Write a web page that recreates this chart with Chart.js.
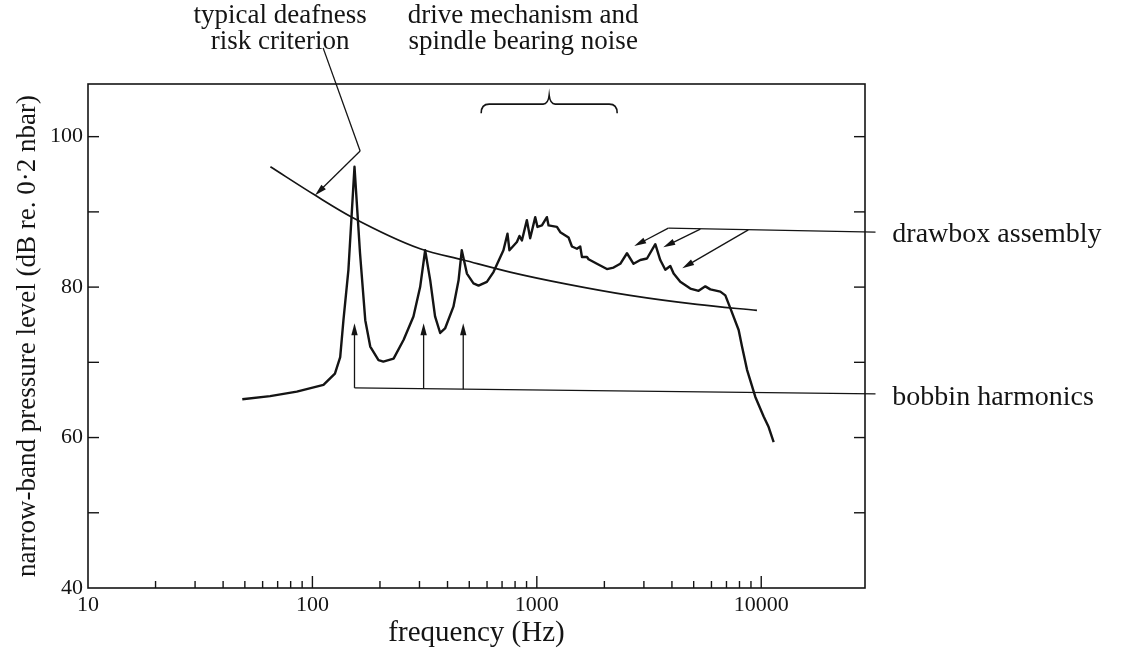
<!DOCTYPE html>
<html><head><meta charset="utf-8">
<script src="https://cdn.jsdelivr.net/npm/chart.js@4.4.1/dist/chart.umd.min.js"></script>
<style>html,body{margin:0;padding:0;background:#fff}#wrap{width:1124px;height:656px}</style>
</head><body><div id="wrap"><canvas id="c" width="1124" height="656"></canvas></div>
<script>
// ---- data ----
const spectrumFreq = [48.7,64.8,85.2,112,126,133,137.5,144.7,154,163,172,181,197,207,230,255,282,302,318,335,352,371,390,425,448,463,488,522,550,599,641,710,740,755,815,837,858,903,934,984,1007,1054,1109,1128,1229,1272,1385,1434,1509,1561,1589,1673,1700,1853,2053,2198,2354,2522,2698,2891,3097,3373,3549,3737,3934,4070,4358,4830,5260,5635,5932,6573,6918,7281,7932,8210,8645,9413,10250,10790,11360];
const spectrumLevel = [65.1,65.5,66.1,67.0,68.5,70.7,75.6,82.3,96.0,84.5,75.6,72.1,70.3,70.1,70.5,73.0,76.1,80.0,84.9,80.9,76.1,73.9,74.5,77.4,80.9,84.9,81.8,80.5,80.2,80.7,82.0,84.9,87.1,84.9,86.0,86.8,86.2,88.9,86.5,89.3,88.0,88.2,89.3,88.2,88.0,87.3,86.6,85.4,85.1,85.4,84.0,84.0,83.7,83.1,82.4,82.6,83.1,84.5,83.1,83.6,83.8,85.7,83.6,82.3,82.8,81.8,80.7,79.8,79.5,80.1,79.7,79.4,78.9,77.2,74.3,72.1,69.0,65.4,62.8,61.4,59.4];
const criterionFreq = [65,103,150,302,471,760,1360,2600,5170,9570];
const criterionLevel = [96.0,92.2,89.3,85.1,83.6,82.0,80.4,78.9,77.7,76.9];
const xTickValues = [20,30,40,50,60,70,80,90,100,200,300,400,500,600,700,800,900,1000,2000,3000,4000,5000,6000,7000,8000,9000,10000];
const xLabelValues = [10,100,1000,10000];
const yTickValues = [50,60,70,80,90,100];
const yLabelValues = [40,60,80,100];
const bobbinHarmonicFreq = [154,313,470];
const drawboxTargetFreq = [2717,3660,4446];
const drawboxTargetLevel = [85.45,85.3,82.5];

// ---- annotation geometry (in data units) ----
const ann = {
  deafPath: [[111.6,111.8],[163.2,98.1]], deafTip: [102.8,92.2],
  bobbinBase: [[154,66.6],[32300,65.8]], bobbinTipLevel: 75.2,
  drawboxLine: [[3855,87.84],[32300,87.3]], drawboxFrom: [[3855,87.84],[5353,87.7],[8759,87.6]],
  brace: {f1:565, f2:2281, fm:1135, yEnd:103.26, yMid:104.33, yPeak:105.5}
};
const INK = '#141414';
const SERIF = '"Liberation Serif", "Times New Roman", serif';

function arrow(ctx, x1, y1, x2, y2, len, w) {
  const a = Math.atan2(y2 - y1, x2 - x1);
  ctx.beginPath(); ctx.moveTo(x1, y1); ctx.lineTo(x2 - Math.cos(a)*len*0.6, y2 - Math.sin(a)*len*0.6); ctx.stroke();
  ctx.beginPath();
  ctx.moveTo(x2, y2);
  ctx.lineTo(x2 - len*Math.cos(a) + w*Math.sin(a), y2 - len*Math.sin(a) - w*Math.cos(a));
  ctx.lineTo(x2 - len*Math.cos(a) - w*Math.sin(a), y2 - len*Math.sin(a) + w*Math.cos(a));
  ctx.closePath(); ctx.fill();
}

const decor = {
  id: 'decor',
  afterDatasetsDraw(chart) {
    const ctx = chart.ctx, xs = chart.scales.x, ys = chart.scales.y, ca = chart.chartArea;
    const P = (f, d) => [xs.getPixelForValue(f), ys.getPixelForValue(d)];
    ctx.save();
    ctx.strokeStyle = INK; ctx.fillStyle = INK; ctx.lineCap = 'butt';
    // frame
    ctx.lineWidth = 1.6;
    ctx.strokeRect(ca.left, ca.top, ca.right - ca.left, ca.bottom - ca.top);
    // ticks
    ctx.lineWidth = 1.4;
    xTickValues.forEach(v => {
      const x = xs.getPixelForValue(v);
      const major = xLabelValues.includes(v);
      ctx.beginPath(); ctx.moveTo(x, ca.bottom); ctx.lineTo(x, ca.bottom - (major ? 12 : 7)); ctx.stroke();
    });
    yTickValues.forEach(v => {
      const y = ys.getPixelForValue(v);
      ctx.beginPath(); ctx.moveTo(ca.left, y); ctx.lineTo(ca.left + 11, y); ctx.stroke();
      ctx.beginPath(); ctx.moveTo(ca.right, y); ctx.lineTo(ca.right - 11, y); ctx.stroke();
    });
    // deafness callout
    ctx.lineWidth = 1.3;
    let a = P(...ann.deafPath[0]), b = P(...ann.deafPath[1]), t = P(...ann.deafTip);
    ctx.beginPath(); ctx.moveTo(a[0], a[1]); ctx.lineTo(b[0], b[1]); ctx.stroke();
    arrow(ctx, b[0], b[1], t[0], t[1], 12, 3.2);
    // bobbin harmonics
    a = P(...ann.bobbinBase[0]); b = P(...ann.bobbinBase[1]);
    ctx.beginPath(); ctx.moveTo(a[0], a[1]); ctx.lineTo(b[0], b[1]); ctx.stroke();
    bobbinHarmonicFreq.forEach(f => {
      const x = xs.getPixelForValue(f);
      const yb = a[1] + (b[1] - a[1]) * (x - a[0]) / (b[0] - a[0]);
      arrow(ctx, x, yb, x, ys.getPixelForValue(ann.bobbinTipLevel), 12, 3.2);
    });
    // drawbox assembly
    a = P(...ann.drawboxLine[0]); b = P(...ann.drawboxLine[1]);
    ctx.beginPath(); ctx.moveTo(a[0], a[1]); ctx.lineTo(b[0], b[1]); ctx.stroke();
    ann.drawboxFrom.forEach((s, i) => {
      const p = P(...s), q = P(drawboxTargetFreq[i], drawboxTargetLevel[i]);
      arrow(ctx, p[0], p[1], q[0], q[1], 12, 3.2);
    });
    // brace
    const br = ann.brace;
    const x1 = xs.getPixelForValue(br.f1), x2 = xs.getPixelForValue(br.f2), xm = xs.getPixelForValue(br.fm);
    const ye = ys.getPixelForValue(br.yEnd), ym = ys.getPixelForValue(br.yMid), yp = ys.getPixelForValue(br.yPeak);
    ctx.lineWidth = 1.6;
    ctx.beginPath();
    ctx.moveTo(x1, ye + 1);
    ctx.quadraticCurveTo(x1, ym, x1 + 8, ym);
    ctx.lineTo(xm - 6, ym);
    ctx.quadraticCurveTo(xm - 1, ym, xm, yp);
    ctx.quadraticCurveTo(xm + 1, ym, xm + 6, ym);
    ctx.lineTo(x2 - 8, ym);
    ctx.quadraticCurveTo(x2, ym, x2, ye + 1);
    ctx.stroke();
    // texts
    ctx.font = '27px ' + SERIF;
    ctx.textBaseline = 'middle';
    ctx.textAlign = 'center';
    ctx.fillText('typical deafness', xs.getPixelForValue(71.8), ys.getPixelForValue(116.0));
    ctx.fillText('risk criterion', xs.getPixelForValue(71.8), ys.getPixelForValue(112.6));
    ctx.fillText('drive mechanism and', xs.getPixelForValue(869), ys.getPixelForValue(116.0));
    ctx.fillText('spindle bearing noise', xs.getPixelForValue(869), ys.getPixelForValue(112.6));
    ctx.font = '28px ' + SERIF;
    ctx.textAlign = 'left';
    ctx.fillText('drawbox assembly', xs.getPixelForValue(38400), ys.getPixelForValue(87.04));
    ctx.fillText('bobbin harmonics', xs.getPixelForValue(38400), ys.getPixelForValue(65.25));
    ctx.restore();
  }
};

new Chart(document.getElementById('c'), {
  type: 'scatter',
  data: {
    datasets: [
      { label: 'spectrum', data: spectrumFreq.map((f, i) => ({x: f, y: spectrumLevel[i]})),
        showLine: true, borderColor: INK, borderWidth: 2.4, pointRadius: 0, tension: 0, borderJoinStyle: 'round' },
      { label: 'criterion', data: criterionFreq.map((f, i) => ({x: f, y: criterionLevel[i]})),
        showLine: true, borderColor: INK, borderWidth: 1.7, pointRadius: 0, cubicInterpolationMode: 'monotone' }
    ]
  },
  options: {
    responsive: false, animation: false, devicePixelRatio: 1,
    layout: { padding: { left: 0, right: 259, top: 84, bottom: 0 } },
    plugins: { legend: { display: false }, tooltip: { enabled: false } },
    scales: {
      x: {
        type: 'logarithmic', position: 'bottom', min: 10, max: 29000,
        grid: { display: false, drawTicks: false }, border: { display: false },
        afterBuildTicks: s => { s.ticks = xLabelValues.map(v => ({value: v})); },
        afterFit: s => { s.height = 68; },
        ticks: { autoSkip: false, maxRotation: 0, padding: 4, color: INK,
          font: { family: SERIF, size: 22 }, callback: v => String(v) },
        title: { display: true, text: 'frequency (Hz)', color: INK,
          font: { family: SERIF, size: 29 }, padding: { top: 0, bottom: 5 } }
      },
      y: {
        type: 'linear', position: 'left', min: 40, max: 107,
        grid: { display: false, drawTicks: false }, border: { display: false },
        afterBuildTicks: s => { s.ticks = yLabelValues.map(v => ({value: v})); },
        afterFit: s => { s.width = 88; },
        ticks: { autoSkip: false, padding: 5, color: INK,
          font: { family: SERIF, size: 22 }, callback: v => String(v) },
        title: { display: true, text: 'narrow-band pressure level (dB re. 0·2 nbar)', color: INK,
          font: { family: SERIF, size: 27 }, padding: { top: 12, bottom: 0 } }
      }
    }
  },
  plugins: [decor]
});
</script>
</body></html>
